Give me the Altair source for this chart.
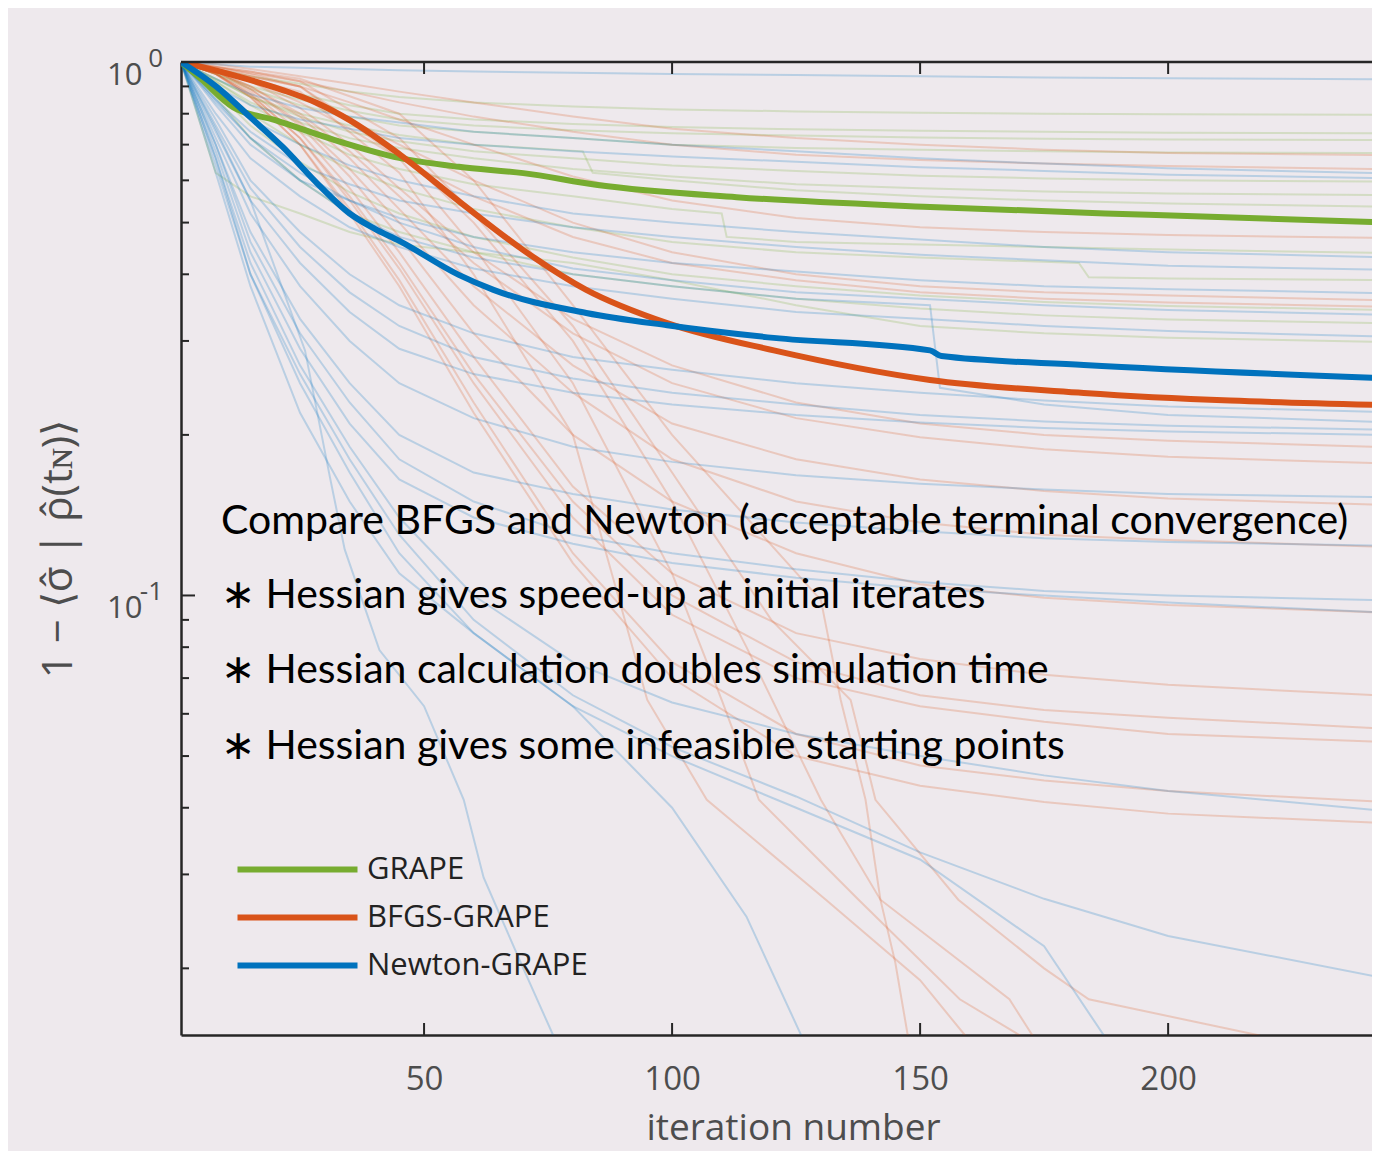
import altair as alt
import pandas as pd

# ---------------- data ----------------
ITER_GRID = [1, 8, 15, 25, 35, 45, 60, 80, 100, 125, 150, 175, 200, 242]

# GRAPE individual runs (values on ITER_GRID)
GRAPE_RUNS = [
    [1, .97, .94, .91, .88, .86, .84, .825, .815, .808, .803, .80, .798, .796],
    [1, .96, .92, .87, .83, .80, .78, .765, .755, .748, .743, .74, .737, .735],
    [1, .95, .90, .85, .81, .78, .76, .745, .735, .728, .722, .718, .716, .714],
    [1, .95, .89, .83, .79, .76, .74, .72, .70, .69, .685, .68, .677, .675],
    [1, .93, .86, .79, .74, .71, .68, .66, .64, .625, .612, .605, .60, .597],
    [1, .92, .84, .77, .72, .69, .66, .63, .61, .59, .58, .572, .567, .563],
    [1, .88, .76, .65, .57, .52, .47, .43, .40, .38, .365, .355, .349, .343],
    [1, .86, .72, .60, .52, .48, .44, .40, .38, .36, .345, .335, .329, .324],
    [1, .62, .56, .52, .48, .455, .44, .42, .39, .35, .32, .31, .304, .299],
]
# GRAPE runs with visible stair steps (own iteration points)
GRAPE_STEP_ITERS = [
    [1, 8, 15, 25, 35, 45, 60, 82, 84, 100, 125, 150, 175, 200, 242],
    [1, 8, 15, 25, 35, 45, 60, 80, 100, 110, 111, 125, 150, 175, 200, 242],
    [1, 8, 15, 25, 35, 45, 60, 80, 100, 125, 150, 182, 184, 200, 242],
]
GRAPE_STEP_VALUES = [
    [1, .93, .86, .80, .76, .73, .70, .68, .62, .60, .575, .56, .55, .543, .536],
    [1, .92, .83, .74, .67, .63, .59, .56, .53, .52, .47, .46, .455, .45, .445, .439],
    [1, .90, .80, .70, .63, .58, .53, .49, .46, .44, .43, .42, .395, .393, .39],
]

# BFGS-GRAPE individual runs (values on ITER_GRID)
BFGS_RUNS = [
    [1, .99, .97, .94, .91, .88, .84, .79, .75, .72, .70, .685, .675, .669],
    [1, .98, .96, .92, .88, .84, .79, .74, .70, .67, .655, .645, .638, .63],
    [1, .98, .95, .90, .84, .78, .70, .61, .55, .51, .49, .48, .474, .468],
    [1, .97, .93, .86, .78, .70, .60, .50, .44, .40, .38, .37, .365, .358],
    [1, .97, .92, .84, .75, .66, .56, .47, .42, .39, .37, .36, .354, .348],
    [1, .97, .92, .82, .70, .58, .44, .33, .27, .23, .21, .20, .195, .19],
    [1, .96, .90, .80, .68, .56, .42, .31, .25, .215, .198, .188, .182, .177],
    [1, .96, .90, .79, .66, .53, .38, .27, .21, .18, .165, .157, .152, .148],
    [1, .96, .89, .77, .63, .50, .35, .24, .18, .15, .137, .13, .127, .1235],
    [1, .96, .89, .76, .61, .47, .31, .20, .15, .12, .105, .099, .096, .093],
    [1, .95, .88, .74, .58, .44, .28, .16, .11, .085, .076, .071, .068, .065],
    [1, .95, .87, .72, .56, .42, .26, .15, .10, .075, .065, .061, .059, .0564],
    [1, .95, .87, .72, .55, .41, .25, .14, .092, .07, .062, .058, .055, .0532],
    [1, .95, .86, .70, .53, .39, .23, .12, .075, .055, .048, .045, .043, .0411],
    [1, .95, .86, .70, .52, .38, .22, .115, .07, .05, .044, .041, .039, .0375],
]
# BFGS-GRAPE runs that fall below the axis
BFGS_FALL_ITERS = [
    [1, 25, 45, 60, 80, 100, 115, 130, 134, 139, 142, 145, 147.5, 150],
    [1, 25, 45, 60, 80, 95, 107, 131, 150, 159, 165],
    [1, 25, 45, 60, 80, 100, 110, 117.5, 137.6, 158, 170, 175],
    [1, 25, 45, 60, 80, 100, 115, 130, 142, 168, 172.6, 178],
    [1, 25, 45, 60, 80, 100, 120, 136, 141, 157.7, 175, 184, 218, 225],
]
BFGS_FALL_VALUES = [
    [1, .93, .80, .60, .35, .20, .14, .098, .0637, .0414, .0269, .0205, .015, .011],
    [1, .88, .62, .40, .20, .0637, .0414, .0269, .019, .015, .013],
    [1, .90, .66, .45, .25, .11, .0637, .0414, .0269, .0175, .015, .014],
    [1, .90, .68, .50, .30, .15, .08, .0414, .0269, .0175, .015, .013],
    [1, .92, .72, .52, .32, .17, .09, .0637, .0414, .0269, .02, .0175, .015, .0143],
]

# Newton-GRAPE individual runs (values on ITER_GRID)
NEWTON_RUNS = [
    [1, .99, .98, .975, .97, .965, .96, .955, .95, .945, .94, .935, .932, .928],
    [1, .93, .87, .82, .79, .77, .74, .72, .70, .68, .66, .645, .632, .619],
    [1, .90, .83, .78, .75, .72, .70, .68, .665, .65, .635, .625, .615, .606],
    [1, .88, .78, .70, .64, .60, .56, .52, .50, .48, .465, .45, .44, .431],
    [1, .85, .74, .64, .59, .55, .52, .49, .47, .45, .435, .425, .415, .408],
    [1, .83, .70, .60, .55, .51, .47, .44, .42, .405, .39, .38, .375, .369],
    [1, .84, .72, .62, .55, .50, .45, .41, .39, .37, .36, .35, .343, .336],
    [1, .80, .66, .56, .49, .45, .41, .38, .36, .34, .33, .32, .313, .306],
    [1, .78, .60, .48, .40, .35, .31, .28, .265, .25, .24, .232, .226, .221],
    [1, .76, .58, .45, .37, .32, .28, .255, .24, .228, .218, .212, .208, .2047],
    [1, .74, .55, .42, .34, .29, .26, .24, .228, .218, .211, .206, .203, .20],
    [1, .72, .52, .38, .30, .25, .215, .19, .178, .168, .162, .158, .155, .153],
    [1, .70, .48, .33, .25, .20, .17, .155, .145, .137, .132, .128, .126, .124],
    [1, .70, .46, .31, .23, .18, .15, .13, .12, .112, .106, .102, .10, .098],
    [1, .68, .44, .29, .21, .165, .14, .125, .115, .108, .103, .10, .097, .093],
    [1, .66, .42, .27, .19, .14, .10, .075, .063, .055, .05, .046, .043, .0396],
    [1, .66, .40, .26, .18, .13, .09, .065, .052, .042, .033, .027, .023, .0193],
]
NEWTON_OWN_ITERS = [
    [1, 8, 15, 25, 35, 45, 60, 80, 100, 125, 152, 154, 175, 200, 242],
    [1, 8, 15, 25, 35, 45, 60, 80, 100, 125, 150, 175, 200, 242],
    [1, 8, 15, 25, 35, 45, 60, 80, 100, 115, 126, 135],
    [1, 8, 15, 26, 31, 34, 41, 50, 58, 62, 70, 76, 80],
]
NEWTON_OWN_VALUES = [
    [1, .85, .72, .60, .52, .47, .43, .40, .38, .36, .35, .245, .228, .218, .2116],
    [1, .64, .40, .25, .17, .12, .085, .062, .05, .04, .032, .022, .0099, .003],
    [1, .62, .38, .22, .15, .11, .085, .062, .04, .025, .015, .008],
    [1, .75, .55, .288, .167, .122, .079, .062, .0414, .0296, .020, .015, .012],
]

# averaged curves
GRAPE_MEAN_X = [1, 5, 11.5, 20, 32, 45, 57, 70, 85, 113, 152, 196, 242]
GRAPE_MEAN_Y = [1.0, 0.93, 0.823, 0.778, 0.714, 0.661, 0.636, 0.619, 0.588, 0.558, 0.535, 0.517, 0.501]
BFGS_MEAN_X = [1, 11.5, 21.5, 28.4, 35, 45, 57.5, 70, 82.7, 99, 120.5, 152, 183, 242]
BFGS_MEAN_Y = [1.0, 0.945, 0.886, 0.838, 0.778, 0.672, 0.544, 0.444, 0.374, 0.324, 0.288, 0.2535, 0.2396, 0.2276]
NEWTON_MEAN_X = [1, 8.2, 14.9, 21.5, 28.4, 35, 40, 45, 57, 64, 82.7, 99, 120.5, 152, 154.3, 183, 242]
NEWTON_MEAN_Y = [1.0, 0.898, 0.789, 0.693, 0.593, 0.52, 0.487, 0.462, 0.399, 0.374, 0.3385, 0.321, 0.304, 0.288, 0.281, 0.2705, 0.2557]

METHODS = ["GRAPE", "BFGS-GRAPE", "Newton-GRAPE"]
COLORS = ["#77AC30", "#D95319", "#0072BD"]

Y_MAJOR = [1, 0.1]
Y_EXPONENTS = ["0", "-1"]
Y_MINOR = [0.9, 0.8, 0.7, 0.6, 0.5, 0.4, 0.3, 0.2, 0.09, 0.08, 0.07, 0.06, 0.05, 0.04, 0.03, 0.02]
X_TICKS = [50, 100, 150, 200]

NOTE_X = [9.06, 9.06, 9.06, 9.06]
NOTE_Y = [0.1373, 0.0996, 0.0722, 0.0521]
NOTE_TEXT = [
    "Compare BFGS and Newton (acceptable terminal convergence)",
    "\u2217 Hessian gives speed-up at initial iterates",
    "\u2217 Hessian calculation doubles simulation time",
    "\u2217 Hessian gives some infeasible starting points",
]

# ---------------- build tables ----------------
def runs_table(method, grid_runs, own_iters, own_values):
    rows = []
    k = 0
    for vals in grid_runs:
        for x, v in zip(ITER_GRID, vals):
            rows.append({"iter": x, "value": v, "run": f"{method}-{k}", "method": method})
        k += 1
    for xs, vals in zip(own_iters, own_values):
        for x, v in zip(xs, vals):
            rows.append({"iter": x, "value": v, "run": f"{method}-{k}", "method": method})
        k += 1
    return pd.DataFrame(rows)

faint_grape = runs_table("GRAPE", GRAPE_RUNS, GRAPE_STEP_ITERS, GRAPE_STEP_VALUES)
faint_bfgs = runs_table("BFGS-GRAPE", BFGS_RUNS, BFGS_FALL_ITERS, BFGS_FALL_VALUES)
faint_newton = runs_table("Newton-GRAPE", NEWTON_RUNS, NEWTON_OWN_ITERS, NEWTON_OWN_VALUES)

def mean_table(method, xs, ys):
    return pd.DataFrame({"iter": xs, "value": ys, "method": [method] * len(xs)})

mean_grape = mean_table("GRAPE", GRAPE_MEAN_X, GRAPE_MEAN_Y)
mean_bfgs = mean_table("BFGS-GRAPE", BFGS_MEAN_X, BFGS_MEAN_Y)
mean_newton = mean_table("Newton-GRAPE", NEWTON_MEAN_X, NEWTON_MEAN_Y)

# ---------------- chart ----------------
W, H = 1191, 973
BG = "#EEE9ED"
AXC = "#262626"
LABC = "#4D4D4D"

xscale = alt.Scale(domain=[1, 241.1], nice=False, zero=False)
yscale = alt.Scale(type="log", domain=[0.015, 1], nice=False)

XAXIS = alt.Axis(
    values=X_TICKS, ticks=False, grid=False, domain=True, domainColor=AXC, domainWidth=2.5,
    labelFont="Open Sans", labelFontSize=33, labelColor=LABC, labelPadding=28,
    title="iteration number", titleFont="Open Sans", titleFontSize=37, titleFontWeight="normal",
    titleColor=LABC, titleX=612, titleY=93, titleBaseline="middle", titleAlign="center",
)
YAXIS = alt.Axis(
    values=Y_MAJOR, ticks=False, grid=False, domain=True, domainColor=AXC, domainWidth=2.5,
    labelExpr="datum.value == 1 ? '10' : '10\u00a0'",
    labelFont="Open Sans", labelFontSize=31, labelColor=LABC, labelPadding=39,
    labelBaseline="alphabetic", labelOffset=22,
    title="1 \u2212 \u27e8\u03c3\u0302 | \u03c1\u0302(t\u0274)\u27e9",
    titleFont="Open Sans", titleFontSize=42, titleFontWeight="normal", titleColor=LABC,
    titleX=-123, titleY=H / 2, titleBaseline="middle", titleAlign="center", titleAngle=270,
)

def X():
    return alt.X("iter:Q", scale=xscale, axis=XAXIS)

def Y():
    return alt.Y("value:Q", scale=yscale, axis=YAXIS)

def faint_layer(df, color):
    return alt.Chart(df).mark_line(strokeWidth=2, opacity=0.22, clip=True, color=color).encode(
        x=X(), y=Y(), detail="run:N",
    )

LEGEND = alt.Legend(
    title=None, orient="none", legendX=101, legendY=792, direction="vertical",
    symbolType="M-12,0H12", symbolSize=100, symbolStrokeWidth=6,
    labelFont="Open Sans", labelFontSize=31, labelColor="#222222", labelOffset=54,
    labelLimit=400, rowPadding=16, padding=0,
)

def mean_layer(df):
    return alt.Chart(df).mark_line(strokeWidth=6, clip=True, interpolate="monotone").encode(
        x=X(), y=Y(),
        color=alt.Color("method:N", scale=alt.Scale(domain=METHODS, range=COLORS), legend=LEGEND),
    )

ymaj = alt.Chart(pd.DataFrame({"value": Y_MAJOR})).mark_rule(color=AXC, strokeWidth=2).encode(
    y=Y(), x=alt.value(0), x2=alt.value(14))
ymin = alt.Chart(pd.DataFrame({"value": Y_MINOR})).mark_rule(color=AXC, strokeWidth=2).encode(
    y=Y(), x=alt.value(0), x2=alt.value(8))
yexp = alt.Chart(pd.DataFrame({"value": Y_MAJOR, "text": Y_EXPONENTS})).mark_text(
    align="right", baseline="alphabetic", font="Open Sans", fontSize=26, color=LABC, dy=5,
).encode(y=Y(), x=alt.value(-18), text="text:N")
xbot = alt.Chart(pd.DataFrame({"iter": X_TICKS})).mark_rule(color=AXC, strokeWidth=2).encode(
    x=X(), y=alt.value(H), y2=alt.value(H - 12))
xtop = alt.Chart(pd.DataFrame({"iter": X_TICKS})).mark_rule(color=AXC, strokeWidth=2).encode(
    x=X(), y=alt.value(0), y2=alt.value(12))
topline = alt.Chart(pd.DataFrame({"iter": [1]})).mark_rule(color=AXC, strokeWidth=2.5).encode(
    y=alt.value(0), x=alt.value(0), x2=alt.value(W))

notes = alt.Chart(pd.DataFrame({"iter": NOTE_X, "value": NOTE_Y, "text": NOTE_TEXT})).mark_text(
    align="left", baseline="middle", font="Lato", fontSize=41, color="#000000",
).encode(x=X(), y=Y(), text="text:N")

chart = alt.layer(
    faint_layer(faint_grape, COLORS[0]),
    faint_layer(faint_bfgs, COLORS[1]),
    faint_layer(faint_newton, COLORS[2]),
    mean_layer(mean_grape),
    mean_layer(mean_bfgs),
    mean_layer(mean_newton),
    ymaj, ymin, yexp, xbot, xtop, topline,
    notes,
).properties(
    width=W, height=H,
    autosize=alt.AutoSizeParams(type="none"),
    padding={"left": 173, "top": 54, "right": 0, "bottom": 116},
    background=BG,
).configure_view(stroke=None, fill=BG)

chart.save("out.html", embed_options={"renderer": "svg", "actions": False})
